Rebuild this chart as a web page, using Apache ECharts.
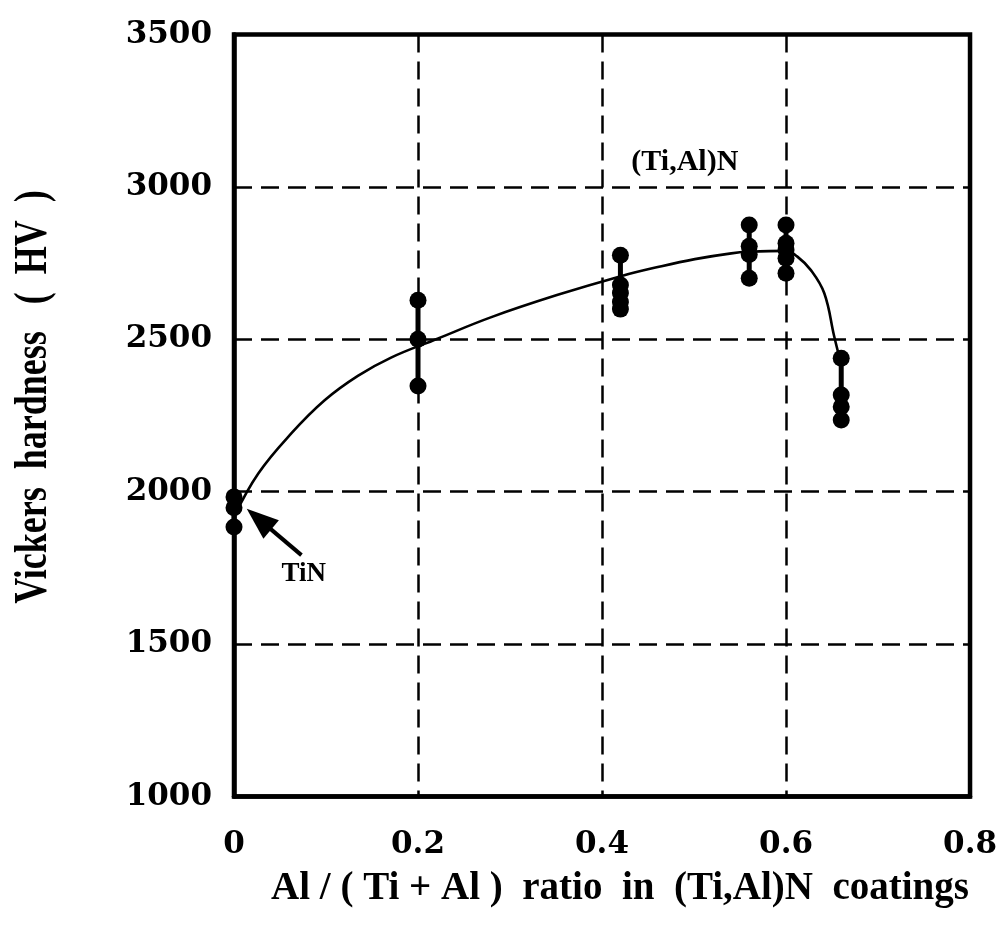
<!DOCTYPE html>
<html>
<head>
<meta charset="utf-8">
<script src="https://cdn.jsdelivr.net/npm/echarts@6/dist/echarts.min.js"></script>
<style>
  html, body { margin: 0; padding: 0; background: #fff; }
  #chart { width: 1000px; height: 934px; }
</style>
</head>
<body>
<div id="chart"></div>
<script>
// Al/(Ti+Al) ratio of each coating series
const ratioGroups = [0, 0.2, 0.42, 0.56, 0.6, 0.66];
// Measured Vickers hardness (HV) for each ratio group
const hardnessGroups = [
  [1983, 1947, 1884],
  [2628, 2500, 2347],
  [2776, 2678, 2652, 2622, 2599],
  [2875, 2805, 2778, 2700],
  [2875, 2815, 2793, 2766, 2717],
  [2438, 2317, 2279, 2235]
];
// Fitted trend curve
const fitRatio = [0, 0.0264, 0.0625, 0.0985, 0.1346, 0.1707, 0.2212, 0.279, 0.351, 0.4214,
                  0.4647, 0.5009, 0.5405, 0.5604, 0.6001, 0.612, 0.627, 0.6416, 0.6524, 0.6578];
const fitHardness = [1918, 2060, 2192, 2300, 2380, 2440, 2502, 2572, 2645, 2708,
                     2740, 2763, 2782, 2787, 2790, 2772, 2727, 2651, 2509, 2443];
// Axis ticks
const xTicks = [0, 0.2, 0.4, 0.6, 0.8];
const yTicks = [1000, 1500, 2000, 2500, 3000, 3500];
// Annotations
const tinLabel = { text: 'TiN', at: [0.0758, 1730] };
const tinArrow = { from: [0.0733, 1792], to: [0.0271, 1910] };
const coatingLabel = { text: '(Ti,Al)N', at: [0.49, 3082] };

const chart = echarts.init(document.getElementById('chart'));

const tickFont = { fontFamily: 'DejaVu Serif', fontWeight: 'bold', fontSize: 31, color: '#000' };
const dashed = { color: '#000', width: 2.5, type: [18, 9] };

// Vertical bar spanning the scatter of each group
const rangeSeries = ratioGroups.map((x, i) => ({
  type: 'line',
  silent: true,
  symbol: 'none',
  z: 3,
  lineStyle: { color: '#000', width: 5 },
  data: [[x, Math.min(...hardnessGroups[i])], [x, Math.max(...hardnessGroups[i])]]
}));

const points = [];
ratioGroups.forEach((x, i) => hardnessGroups[i].forEach(v => points.push([x, v])));

chart.setOption({
  animation: false,
  backgroundColor: '#fff',
  grid: {
    left: 234, right: 27, top: 34.5, bottom: 137.5,
    show: true, borderColor: '#000', borderWidth: 4.5, backgroundColor: 'transparent'
  },
  xAxis: {
    type: 'value',
    min: xTicks[0], max: xTicks[xTicks.length - 1], interval: 0.2,
    axisLine: { show: true, lineStyle: { color: '#000', width: 4.5 } },
    axisTick: { show: false },
    axisLabel: Object.assign({}, tickFont, { margin: 33, formatter: v => (v === 0 ? '0' : v.toFixed(1)) }),
    splitLine: { show: true, lineStyle: dashed }
  },
  yAxis: {
    type: 'value',
    min: yTicks[0], max: yTicks[yTicks.length - 1], interval: 500,
    axisLine: { show: true, lineStyle: { color: '#000', width: 4.5 } },
    axisTick: { show: false },
    axisLabel: Object.assign({}, tickFont, { margin: 22, formatter: v => String(v) }),
    splitLine: { show: true, lineStyle: dashed }
  },
  graphic: [
    {
      type: 'text',
      x: 620, y: 889,
      style: {
        text: 'Al / ( Ti + Al )  ratio  in  (Ti,Al)N  coatings',
        font: 'bold 39px "Liberation Serif"',
        fill: '#000', textAlign: 'center', textVerticalAlign: 'middle'
      }
    },
    {
      type: 'text',
      x: 34, y: 397,
      rotation: Math.PI / 2,
      scaleY: 1.3,
      style: {
        text: 'Vickers  hardness   (  HV  )',
        font: 'bold 36px "Liberation Serif"',
        fill: '#000', textAlign: 'center', textVerticalAlign: 'middle'
      }
    }
  ],
  series: [
    {
      type: 'line',
      silent: true,
      symbol: 'none',
      smooth: 0.4,
      z: 2,
      lineStyle: { color: '#000', width: 2.6 },
      data: fitRatio.map((x, i) => [x, fitHardness[i]]),
      markLine: {
        silent: true,
        symbol: ['none', 'triangle'],
        symbolSize: [24, 32],
        label: { show: false },
        lineStyle: { color: '#000', width: 4, type: 'solid' },
        itemStyle: { color: '#000' },
        data: [[{ coord: tinArrow.from }, { coord: tinArrow.to }]]
      },
      markPoint: {
        silent: true,
        symbol: 'circle',
        symbolSize: 1,
        itemStyle: { color: 'rgba(0,0,0,0)' },
        label: {
          show: true, position: 'inside', color: '#000',
          fontFamily: 'Liberation Serif', fontWeight: 'bold'
        },
        data: [
          { coord: tinLabel.at, label: { formatter: tinLabel.text, fontSize: 27 } },
          { coord: coatingLabel.at, label: { formatter: coatingLabel.text, fontSize: 30 } }
        ]
      }
    },
    ...rangeSeries,
    {
      type: 'scatter',
      silent: true,
      clip: false,
      z: 4,
      symbol: 'circle',
      symbolSize: 17,
      itemStyle: { color: '#000', opacity: 1 },
      data: points
    }
  ]
});
</script>
</body>
</html>
